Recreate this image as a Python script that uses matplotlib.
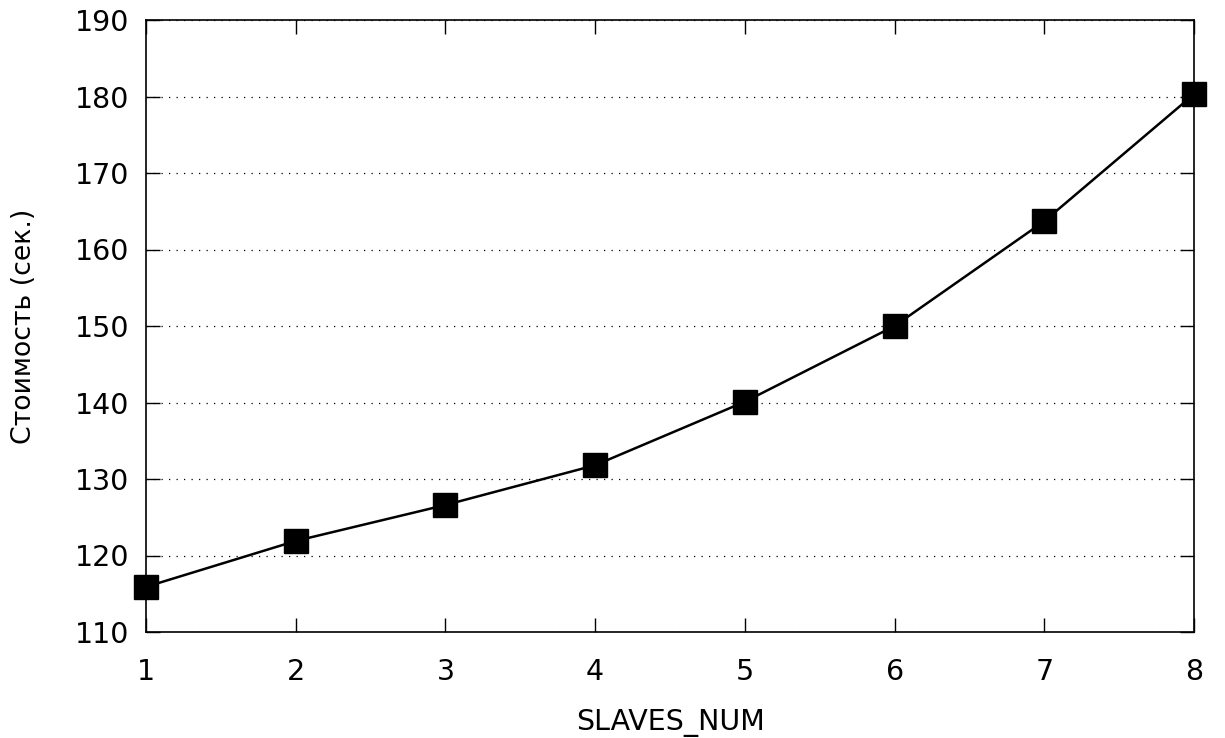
import matplotlib
matplotlib.use("Agg")
import matplotlib.pyplot as plt

slaves_num = [1, 2, 3, 4, 5, 6, 7, 8]
cost = [115.9, 121.9, 126.6, 131.8, 140.1, 150.0, 163.7, 180.3]
y_ticks = [110, 120, 130, 140, 150, 160, 170, 180, 190]

plt.rcParams['font.family'] = ['DejaVu Sans']

fig = plt.figure(figsize=(12.25, 7.38), dpi=100)
ax = fig.add_axes([146/1225, 1 - 632/738, (1194-146)/1225, (632-20)/738])

ax.plot(slaves_num, cost, color='black', lw=1.8, marker='s', markersize=17.5,
        clip_on=False, zorder=3)

ax.set_xlim(1, 8)
ax.set_ylim(110, 190)
ax.set_xticks(slaves_num)
ax.set_yticks(y_ticks)
ax.tick_params(direction='in', length=10, width=1, labelsize=20.5, pad=12,
               top=True, right=True, colors='black')
ax.tick_params(axis='x', pad=19)
for s in ax.spines.values():
    s.set_linewidth(1.2)
ax.yaxis.grid(True, linestyle=(0, (1, 5)), color='black', lw=0.9)
ax.set_axisbelow(True)

ax.set_xlabel('SLAVES_NUM', fontsize=20.5, labelpad=16)
ax.set_ylabel('Стоимость (сек.)', fontsize=19.3, labelpad=27)

fig.savefig('out.png', dpi=100)
